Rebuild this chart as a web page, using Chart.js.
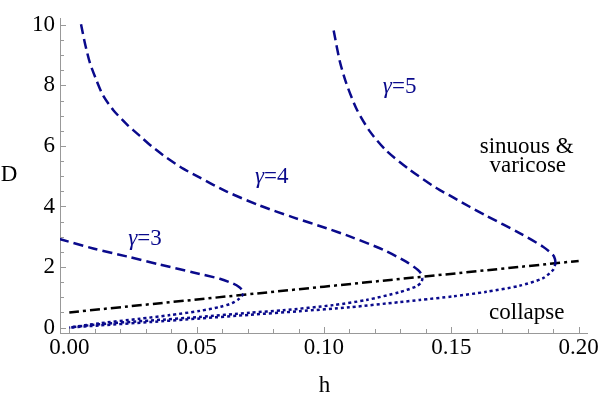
<!DOCTYPE html>
<html>
<head>
<meta charset="utf-8">
<script src="https://cdn.jsdelivr.net/npm/chart.js@4.4.0/dist/chart.umd.min.js"></script>
<style>
  html, body { margin: 0; padding: 0; background: #fff; }
</style>
</head>
<body>
<canvas id="myChart" width="600" height="400"></canvas>
<script>
// values: h on x, D on y
var xTicks = [0, 0.05, 0.10, 0.15, 0.20];
var yTicks = [0, 2, 4, 6, 8, 10];

// gamma = 3 (dashed upper branch, dotted lower branch)
var g3UpperH = [-0.004, 0.0094, 0.0225, 0.0356, 0.0487, 0.0591, 0.0643, 0.0668, 0.0680, 0.0683];
var g3UpperD = [2.93, 2.61, 2.35, 2.08, 1.82, 1.61, 1.45, 1.33, 1.22, 1.12];
var g3LowerH = [0.0683, 0.0678, 0.0662, 0.0638, 0.0591, 0.0513, 0.0395, 0.0277, 0.0120, 0];
var g3LowerD = [1.12, 1.04, 0.92, 0.80, 0.68, 0.55, 0.41, 0.29, 0.14, 0];

// gamma = 4
var g4UpperH = [0.0046, 0.0062, 0.0081, 0.0108, 0.0133, 0.0173, 0.0225, 0.0277, 0.0323, 0.0382, 0.0447,
                0.0513, 0.0618, 0.0748, 0.0879, 0.1010, 0.1101, 0.1232, 0.1324, 0.1369, 0.1383, 0.1387];
var g4UpperD = [10.02, 9.37, 8.74, 8.14, 7.66, 7.18, 6.72, 6.33, 5.99, 5.61, 5.25,
                4.95, 4.49, 4.03, 3.64, 3.28, 3.01, 2.57, 2.17, 1.90, 1.76, 1.63];
var g4LowerH = [0.1387, 0.1382, 0.1363, 0.1297, 0.1167, 0.1036, 0.0840, 0.0709, 0.0513, 0.0317, 0.0120, 0];
var g4LowerD = [1.63, 1.49, 1.36, 1.17, 0.91, 0.74, 0.57, 0.49, 0.35, 0.23, 0.11, 0];

// gamma = 5
var g5UpperH = [0.1038, 0.1062, 0.1088, 0.1128, 0.1180, 0.1245, 0.1337, 0.1441, 0.1507, 0.1572, 0.1638,
                0.1768, 0.1860, 0.1899, 0.1907, 0.1909];
var g5UpperD = [9.81, 8.80, 8.06, 7.22, 6.48, 5.84, 5.21, 4.61, 4.30, 3.99, 3.69,
                3.12, 2.67, 2.40, 2.26, 2.12];
var g5LowerH = [0.1909, 0.1900, 0.1860, 0.1768, 0.1638, 0.1507, 0.1376, 0.1297, 0.1101, 0.0905, 0.0709,
                0.0513, 0.0317, 0.0120, 0];
var g5LowerD = [2.12, 1.91, 1.63, 1.38, 1.18, 1.03, 0.91, 0.84, 0.67, 0.54, 0.42,
                0.30, 0.18, 0.07, 0];

// collapse threshold (dot-dashed)
var boundH = [0, 0.2];
var boundD = [0.5, 2.2];

// text labels: [italic part, rest, h, D]
var labels = [
  ['γ', '=3', 0.0297, 2.93],
  ['γ', '=4', 0.0795, 4.99],
  ['γ', '=5', 0.1297, 7.95]
];
var notes = [
  ['sinuous &', 0.1796, 5.98],
  ['varicose', 0.18, 5.34],
  ['collapse', 0.1796, 0.49]
];

var blue = 'rgb(10,10,140)';
var serif = "'Liberation Serif', 'DejaVu Serif', serif";
var fontSize = 23;

function pts(hs, ds) {
  return hs.map(function (h, i) { return { x: h, y: ds[i] }; });
}

function curve(hs, ds, color, dash) {
  return {
    data: pts(hs, ds),
    showLine: true,
    borderColor: color,
    borderWidth: 2.5,
    borderDash: dash,
    pointRadius: 0,
    tension: 0.25,
    fill: false
  };
}

var dashed = [10, 5];
var dotted = [3, 3];

// inward ticks + texts
var decor = {
  id: 'decor',
  beforeDatasetsDraw: function (chart) {
    var c = chart.ctx, xs = chart.scales.x, ys = chart.scales.y;
    var a = chart.chartArea;
    c.save();
    c.strokeStyle = '#999';
    c.lineWidth = 1;
    c.beginPath();
    for (var v = 0; v <= 20; v++) {
      var px = Math.round(xs.getPixelForValue(v / 100)) + 0.5;
      var len = (v % 5 === 0) ? 6 : 4;
      c.moveTo(px, a.bottom); c.lineTo(px, a.bottom - len);
    }
    for (var w = 0; w <= 20; w++) {
      var py = Math.round(ys.getPixelForValue(w / 2)) + 0.5;
      var l2 = (w % 4 === 0) ? 6 : 4;
      c.moveTo(a.left, py); c.lineTo(a.left + l2, py);
    }
    c.stroke();
    c.restore();
  },
  afterDatasetsDraw: function (chart) {
    var c = chart.ctx, xs = chart.scales.x, ys = chart.scales.y;
    var a = chart.chartArea;
    c.save();
    c.textBaseline = 'middle';
    c.fillStyle = blue;
    labels.forEach(function (l) {
      c.font = 'italic ' + fontSize + 'px ' + serif;
      var w1 = c.measureText(l[0]).width;
      c.font = fontSize + 'px ' + serif;
      var w2 = c.measureText(l[1]).width;
      var x0 = xs.getPixelForValue(l[2]) - (w1 + w2) / 2;
      var y0 = ys.getPixelForValue(l[3]);
      c.font = 'italic ' + fontSize + 'px ' + serif;
      c.textAlign = 'left';
      c.fillText(l[0], x0, y0);
      c.font = fontSize + 'px ' + serif;
      c.fillText(l[1], x0 + w1, y0);
    });
    c.fillStyle = '#000';
    c.textAlign = 'center';
    c.font = fontSize + 'px ' + serif;
    notes.forEach(function (n) {
      c.fillText(n[0], xs.getPixelForValue(n[1]), ys.getPixelForValue(n[2]));
    });
    // axis titles
    c.fillText('D', a.left - 51, ys.getPixelForValue(5.05));
    c.fillText('h', xs.getPixelForValue(0.1002), a.bottom + 53);
    c.restore();
  }
};

var ctx = document.getElementById('myChart');
var myChart = new Chart(ctx, {
  type: 'scatter',
  data: {
    datasets: [
      curve(g3UpperH, g3UpperD, blue, dashed),
      curve(g3LowerH, g3LowerD, blue, dotted),
      curve(g4UpperH, g4UpperD, blue, dashed),
      curve(g4LowerH, g4LowerD, blue, dotted),
      curve(g5UpperH, g5UpperD, blue, dashed),
      curve(g5LowerH, g5LowerD, blue, dotted),
      curve(boundH, boundD, '#000', [10, 4, 3, 4])
    ]
  },
  options: {
    responsive: false,
    animation: false,
    devicePixelRatio: 1,
    layout: { padding: { top: 6, right: 12, left: 0, bottom: 0 } },
    plugins: {
      legend: { display: false },
      tooltip: { enabled: false }
    },
    scales: {
      x: {
        type: 'linear',
        min: -0.00365,
        max: 0.2035,
        afterBuildTicks: function (s) { s.ticks = xTicks.map(function (v) { return { value: v }; }); },
        afterFit: function (s) { s.height = 67; },
        ticks: {
          color: '#000',
          font: { family: serif, size: fontSize },
          padding: 1,
          maxRotation: 0,
          autoSkip: false,
          callback: function (v) { return v.toFixed(2); }
        },
        grid: { drawOnChartArea: false, drawTicks: false },
        border: { color: '#999', width: 1 }
      },
      y: {
        type: 'linear',
        min: -0.181,
        max: 10.2,
        afterBuildTicks: function (s) { s.ticks = yTicks.map(function (v) { return { value: v }; }); },
        afterFit: function (s) { s.width = 60; },
        ticks: {
          color: '#000',
          font: { family: serif, size: fontSize },
          padding: 5,
          autoSkip: false,
          callback: function (v) { return String(v); }
        },
        grid: { drawOnChartArea: false, drawTicks: false },
        border: { color: '#999', width: 1 }
      }
    }
  },
  plugins: [decor]
});
</script>
</body>
</html>
